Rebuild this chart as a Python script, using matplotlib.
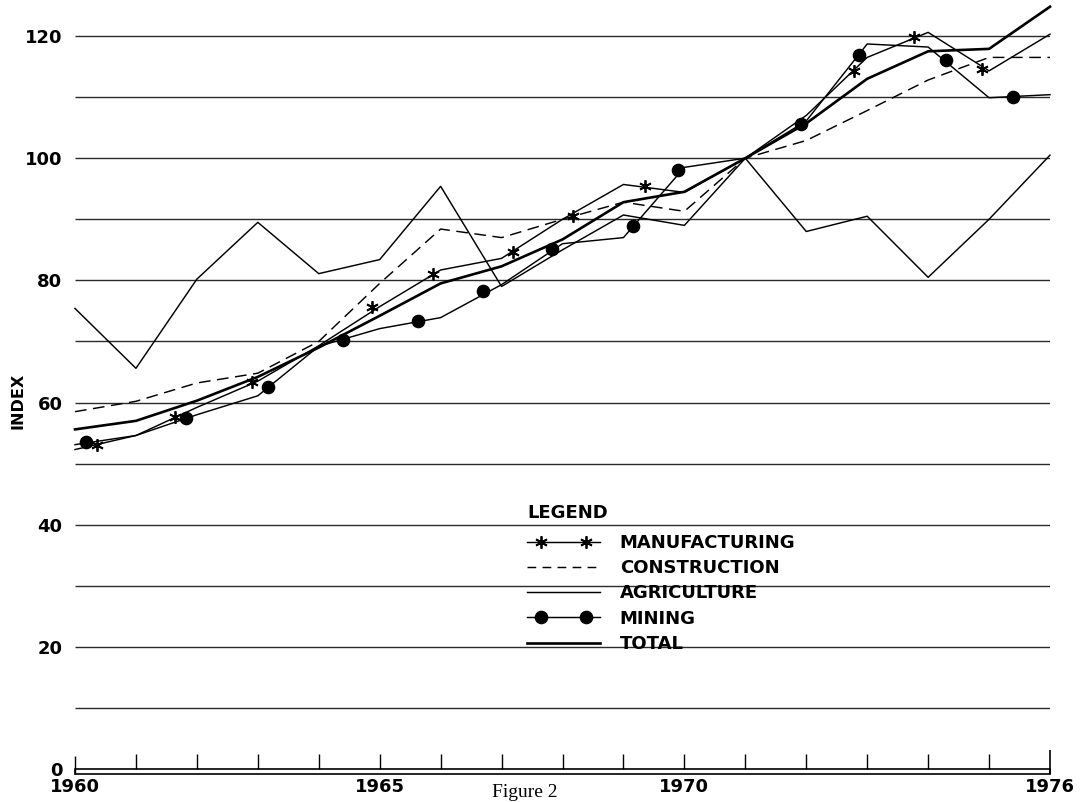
"""
Production index by sector, 1960-1976 (1971 = 100).
Redrawn as a plain black-and-white line chart in the style of the printed figure.
"""
import matplotlib
matplotlib.use("Agg")
import matplotlib.pyplot as plt
import matplotlib.transforms as mtransforms
from matplotlib.legend_handler import HandlerLine2D, HandlerTuple
from matplotlib.lines import Line2D
from matplotlib.patches import Rectangle

# ---- data ---------------------------------------------------------------
years = list(range(1960, 1977))

manufacturing = [52.3, 54.6, 59.2, 63.5, 69.3, 75.7, 81.7, 83.6, 90.0,
                 95.7, 94.4, 100.0, 107.0, 116.5, 120.6, 114.3, 120.3]
construction = [58.5, 60.2, 63.2, 64.8, 70.0, 79.5, 88.4, 87.0, 90.0,
                92.8, 91.3, 100.0, 102.9, 107.8, 112.8, 116.5, 116.5]
agriculture = [75.4, 65.6, 80.2, 89.5, 81.1, 83.4, 95.4, 79.0, 85.0,
               90.7, 89.0, 100.0, 88.0, 90.5, 80.5, 90.0, 100.5]
mining = [53.1, 54.6, 58.0, 61.1, 69.2, 72.1, 73.9, 79.3, 86.0,
          87.0, 98.5, 100.0, 106.1, 118.7, 118.2, 109.9, 110.4]
total = [55.6, 57.0, 60.3, 64.2, 69.0, 74.2, 79.5, 82.3, 86.7,
         92.8, 94.5, 100.0, 105.7, 113.0, 117.5, 117.9, 124.8]

# the printed symbols sit between the yearly points
manuf_marker_years = [1960.36, 1961.64, 1962.91, 1964.88, 1965.88, 1967.18,
                      1968.18, 1969.36, 1972.78, 1973.76, 1974.89]
manuf_marker_values = [53.1, 57.7, 63.3, 75.6, 81.0, 84.6,
                       90.6, 95.4, 114.3, 119.8, 114.6]
mining_marker_years = [1960.18, 1961.82, 1963.17, 1964.40, 1965.63, 1966.70,
                       1967.83, 1969.16, 1969.89, 1971.92, 1972.86, 1974.29,
                       1975.40]
mining_marker_values = [53.6, 57.4, 62.6, 70.2, 73.3, 78.2,
                        85.1, 88.9, 98.0, 105.6, 116.9, 116.1,
                        110.0]

grid_levels = list(range(10, 121, 10))
y_tick_values = list(range(0, 121, 20))
x_tick_labels = [1960, 1965, 1970, 1976]

legend_labels = ["MANUFACTURING", "CONSTRUCTION", "AGRICULTURE", "MINING", "TOTAL"]

# ---- layout (pixels of the 1080x802 canvas) -----------------------------
W, H = 1080, 802
LEFT_PX, RIGHT_PX = 75, 1050
ZERO_PX, PX_PER_UNIT = 769, 6.108
Y_MIN, Y_MAX = -1.5, 125.8
bottom_px = ZERO_PX - Y_MIN * PX_PER_UNIT
top_px = ZERO_PX - Y_MAX * PX_PER_UNIT

plt.rcParams["font.family"] = ["DejaVu Sans"]

fig = plt.figure(figsize=(W / 100, H / 100), dpi=100)
ax = fig.add_axes([LEFT_PX / W, 1 - bottom_px / H,
                   (RIGHT_PX - LEFT_PX) / W, (bottom_px - top_px) / H])
ax.set_xlim(years[0], years[-1])
ax.set_ylim(Y_MIN, Y_MAX)
for s in ax.spines.values():
    s.set_visible(False)

# horizontal rules
ax.hlines(grid_levels, years[0], years[-1], color="#2a2a2a", lw=1.0, zorder=1)

# base bar with year ticks
ax.add_patch(Rectangle((years[0], -0.9), years[-1] - years[0], 0.9,
                       facecolor="white", edgecolor="black", lw=1.2,
                       clip_on=False, zorder=2))
ax.vlines(years[1:-1], 0, 2.4, color="black", lw=1.0, clip_on=False)
ax.vlines([years[0]], -0.9, 2.2, color="black", lw=1.0, clip_on=False)
ax.vlines([years[-1]], -0.9, 3.1, color="black", lw=1.2, clip_on=False)

ASTER = (6, 2, 0)
thin = dict(color="black", lw=1.05, clip_on=False, zorder=3)

ax.plot(years, agriculture, **thin)
ax.plot(years, construction, ls=(0, (8, 4.5)), **thin)
ax.plot(years, manufacturing, **thin)
ax.plot(manuf_marker_years, manuf_marker_values, ls="none", marker=ASTER,
        ms=9, mew=1.3, color="black", clip_on=False, zorder=4)
ax.plot(years, mining, **thin)
ax.plot(mining_marker_years, mining_marker_values, ls="none", marker="o",
        ms=8.8, color="black", clip_on=False, zorder=4)
ax.plot(years, total, color="black", lw=1.9, clip_on=False, zorder=3)

# ticks / labels
ax.set_xticks(x_tick_labels)
ax.set_xticklabels([str(y) for y in x_tick_labels])
ax.set_yticks(y_tick_values)
ax.set_yticklabels([str(v) for v in y_tick_values])
ax.tick_params(axis="x", length=0, pad=0, labelsize=13)
ax.tick_params(axis="y", length=0, pad=9, labelsize=13)
for lbl in ax.get_xticklabels() + ax.get_yticklabels():
    lbl.set_fontweight("bold")

ax.set_ylabel("INDEX", fontsize=11.5, fontweight="bold")
ax.yaxis.set_label_coords(
    (25 - LEFT_PX) / (RIGHT_PX - LEFT_PX), 60.2,
    transform=mtransforms.blended_transform_factory(ax.transAxes, ax.transData))

# legend (title drawn separately so it sits where the printed one does)
line_h = Line2D([], [], color="black", lw=1.05)
manuf_pts = Line2D([], [], ls="none", marker=ASTER, ms=9, mew=1.3, color="black")
mining_pts = Line2D([], [], ls="none", marker="o", ms=8.8, color="black")
dash_h = Line2D([], [], color="black", lw=1.05, ls=(0, (6, 4.3)))
total_h = Line2D([], [], color="black", lw=1.9)
two_pts = HandlerLine2D(numpoints=2, marker_pad=0.75)

fig.text(527 / W, 1 - 513 / H, "LEGEND", ha="left", va="center",
         fontsize=13, fontweight="bold")
ax.legend(
    [(line_h, manuf_pts), dash_h, line_h, (line_h, mining_pts), total_h],
    legend_labels,
    loc="upper left", bbox_to_anchor=(527 / W, 1 - 534 / H),
    bbox_transform=fig.transFigure, frameon=False,
    prop=dict(weight="bold", size=13),
    handlelength=4.04, handletextpad=1.1, labelspacing=0.4,
    borderpad=0, borderaxespad=0,
    handler_map={tuple: HandlerTuple(ndivide=1, pad=0),
                 manuf_pts: two_pts, mining_pts: two_pts},
)

fig.text(525 / W, 1 - 801 / H, "Figure 2", ha="center", va="bottom",
         family="Liberation Serif", fontsize=14)

fig.savefig("out.png", dpi=100)
